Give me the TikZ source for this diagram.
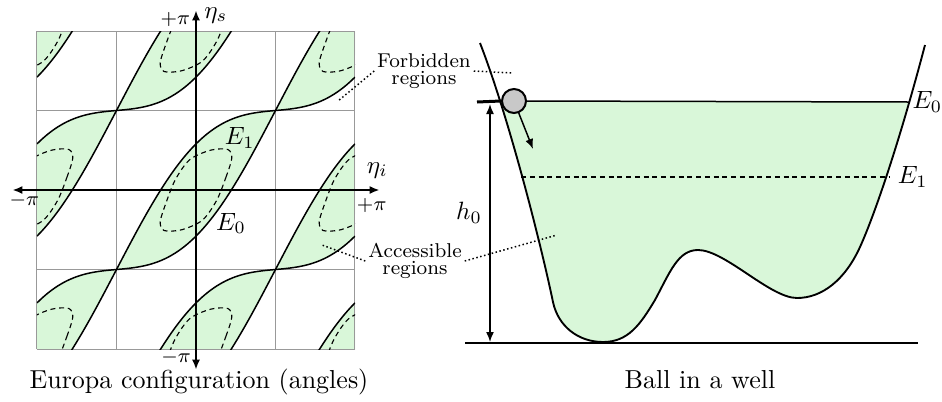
\documentclass[tikz,border=0pt]{standalone}
\usepackage{amsmath}
\usepackage{tikz}
\usetikzlibrary{arrows.meta, positioning}

\definecolor{verde}{RGB}{217,247,217}
\definecolor{bola}{RGB}{200,200,200}

\begin{document}
\begin{tikzpicture}[
		x=0.4pt, y=-0.4pt,
		eje/.style={{Latex[length=4pt,width=3.2pt]}-{Latex[length=4pt,width=3.2pt]}, line width=0.8pt},
		frontera/.style={line width=0.6pt},
		interior/.style={dash pattern=on 2pt off 1.5pt, line width=0.45pt},
		rejilla/.style={draw=black!40, line width=0.4pt},
		nota/.style={font=\footnotesize, align=center, inner sep=1pt},
		enlace/.style={dash pattern=on 0.6pt off 1pt, line width=0.6pt},
		pozo/.style={line width=0.75pt},
		titulo/.style={anchor=base, font={\fontsize{10.4}{12}\selectfont}}
		]
		
		\useasboundingbox (0,0) rectangle (942,401);
		
		% Configuracion de Europa
		\begin{scope}[shift={(196,190)}, x=31.8pt, y=31.8pt]
			\begin{scope}
				\clip (-2,-2) rectangle (2,2);
				\foreach \k in {-2,...,2}
				\fill[verde] plot[domain=-2:2, samples=61, smooth] (\x, {\x+2*(\k)+0.58*sin(90*(\x+1))})
				-- plot[domain=2:-2, samples=61, smooth] (\x, {\x+2*(\k)-0.58*sin(90*(\x+1))}) -- cycle;
			\end{scope}
			
			\draw[rejilla] (-2,-2) grid[step=1] (2,2);
			
			\begin{scope}
				\clip (-2,-2) rectangle (2,2);
				\foreach \k in {-2,...,2} {
					\draw[frontera] plot[domain=-2:2, samples=61, smooth] (\x, {\x+2*(\k)+0.58*sin(90*(\x+1))});
					\draw[frontera] plot[domain=-2:2, samples=61, smooth] (\x, {\x+2*(\k)-0.58*sin(90*(\x+1))});
				}
				% Curvas E_1
				\foreach \i in {-2,0,2}
				\foreach \j in {-2,0,2}
				\draw[interior, shift={(\i,\j)}] plot[smooth cycle] coordinates
				{(0.45,0.40) (0.38,0.17) (0.26,-0.13) (0.08,-0.38) (-0.18,-0.50) (-0.40,-0.51)
					(-0.45,-0.40) (-0.38,-0.17) (-0.26,0.13) (-0.08,0.38) (0.18,0.50) (0.40,0.51)};
			\end{scope}
			
			% Ejes
			\coordinate (xneg) at (-2.31,0);
			\coordinate (xpos) at (2.31,0);
			\coordinate (yneg) at (0,-2.26);
			\coordinate (ypos) at (0,2.26);
			\draw[eje] (xneg) -- (xpos);
			\draw[eje] (yneg) -- (ypos);
			
			\node[font=\footnotesize] (pitop) at (-0.26,2.15) {$+\pi$};
			\node (etas) at (0.25,2.20) {$\eta_s$};
			\node[font=\footnotesize] (pileft) at (-2.16,-0.13) {$-\pi$};
			\node (etai) at (2.28,0.25) {$\eta_i$};
			\node[font=\footnotesize] (piright) at (2.21,-0.19) {$+\pi$};
			\node[font=\footnotesize] (pibot) at (-0.25,-2.11) {$-\pi$};
			\node (lE1) at (0.55,0.65) {$E_1$};
			\node (lE0) at (0.44,-0.42) {$E_0$};
		\end{scope}
		
		% Pozo
		\begin{scope}
			\clip (440,102) rectangle (942,360);
			\fill[verde] (480,43) .. controls (508,115) and (540,240) .. (553,302)
			.. controls (558,326) and (578,342) .. (603,342)
			.. controls (628,342) and (640,325) .. (655,300)
			.. controls (670,272) and (678,250) .. (698,250)
			.. controls (725,250) and (770,298) .. (797,298)
			.. controls (822,298) and (845,280) .. (860,247)
			.. controls (875,214) and (900,140) .. (925,45) -- cycle;
		\end{scope}
		
		\coordinate (e1L) at (521,177);
		\coordinate (e1R) at (889,177);
		\draw[interior, line width=0.6pt] (e1L) -- (e1R);
		
		\draw[pozo] (480,43) .. controls (508,115) and (540,240) .. (553,302)
		.. controls (558,326) and (578,342) .. (603,342)
		.. controls (628,342) and (640,325) .. (655,300)
		.. controls (670,272) and (678,250) .. (698,250)
		.. controls (725,250) and (770,298) .. (797,298)
		.. controls (822,298) and (845,280) .. (860,247)
		.. controls (875,214) and (900,140) .. (925,45);
		
		\coordinate (bL) at (465,343);
		\coordinate (bR) at (918,343);
		\draw[line width=0.5pt] (bL) -- (bR);
		
		\node[circle, draw, line width=0.8pt, fill=bola, minimum size=9.6pt, inner sep=0pt] (ball) at (514,101) {};
		\coordinate (e0L) at (477,102);
		\coordinate (e0R) at (909,102);
		\draw[line width=1.2pt] (e0L) -- (ball.west);
		\draw[line width=0.6pt] (ball.east) -- (e0R);
		\coordinate (push) at (533,149);
		\draw[-{Latex[length=4pt,width=3.2pt]}, line width=0.6pt] (ball) -- (push);
		
		\node[right, inner sep=1.2pt] (lE0r) at (e0R) {$E_0$};
		\node[right] (lE1r) at (e1R) {$E_1$};
		
		\coordinate (h0top) at (490,104);
		\coordinate (h0bot) at (490,342);
		\draw[{Latex[length=4pt,width=3.2pt]}-{Latex[length=4pt,width=3.2pt]}, line width=0.6pt] (h0top) -- (h0bot);
		\node (lh0) at (469,213) {$h_0$};
		
		% Notas
		\node[nota] (forb) at (424,71) {Forbidden\\[-2.5pt]regions};
		\coordinate (forbA) at (338,101);
		\coordinate (forbB) at (512,73);
		\draw[enlace] (forb.west) -- (forbA);
		\draw[enlace] (forb.east) -- (forbB);
		
		\node[nota] (acc) at (415,261) {Accessible\\[-2.5pt]regions};
		\coordinate (accA) at (322,245);
		\coordinate (accB) at (557,235);
		\draw[enlace] (acc.west) -- (accA);
		\draw[enlace] (acc.east) -- (accB);
		
		% Titulos
		\node[titulo] (capL) at (199,388) {Europa configuration (angles)};
		\node[titulo] (capR) at (700,388) {Ball in a well};
		
	\end{tikzpicture}
\end{document}
